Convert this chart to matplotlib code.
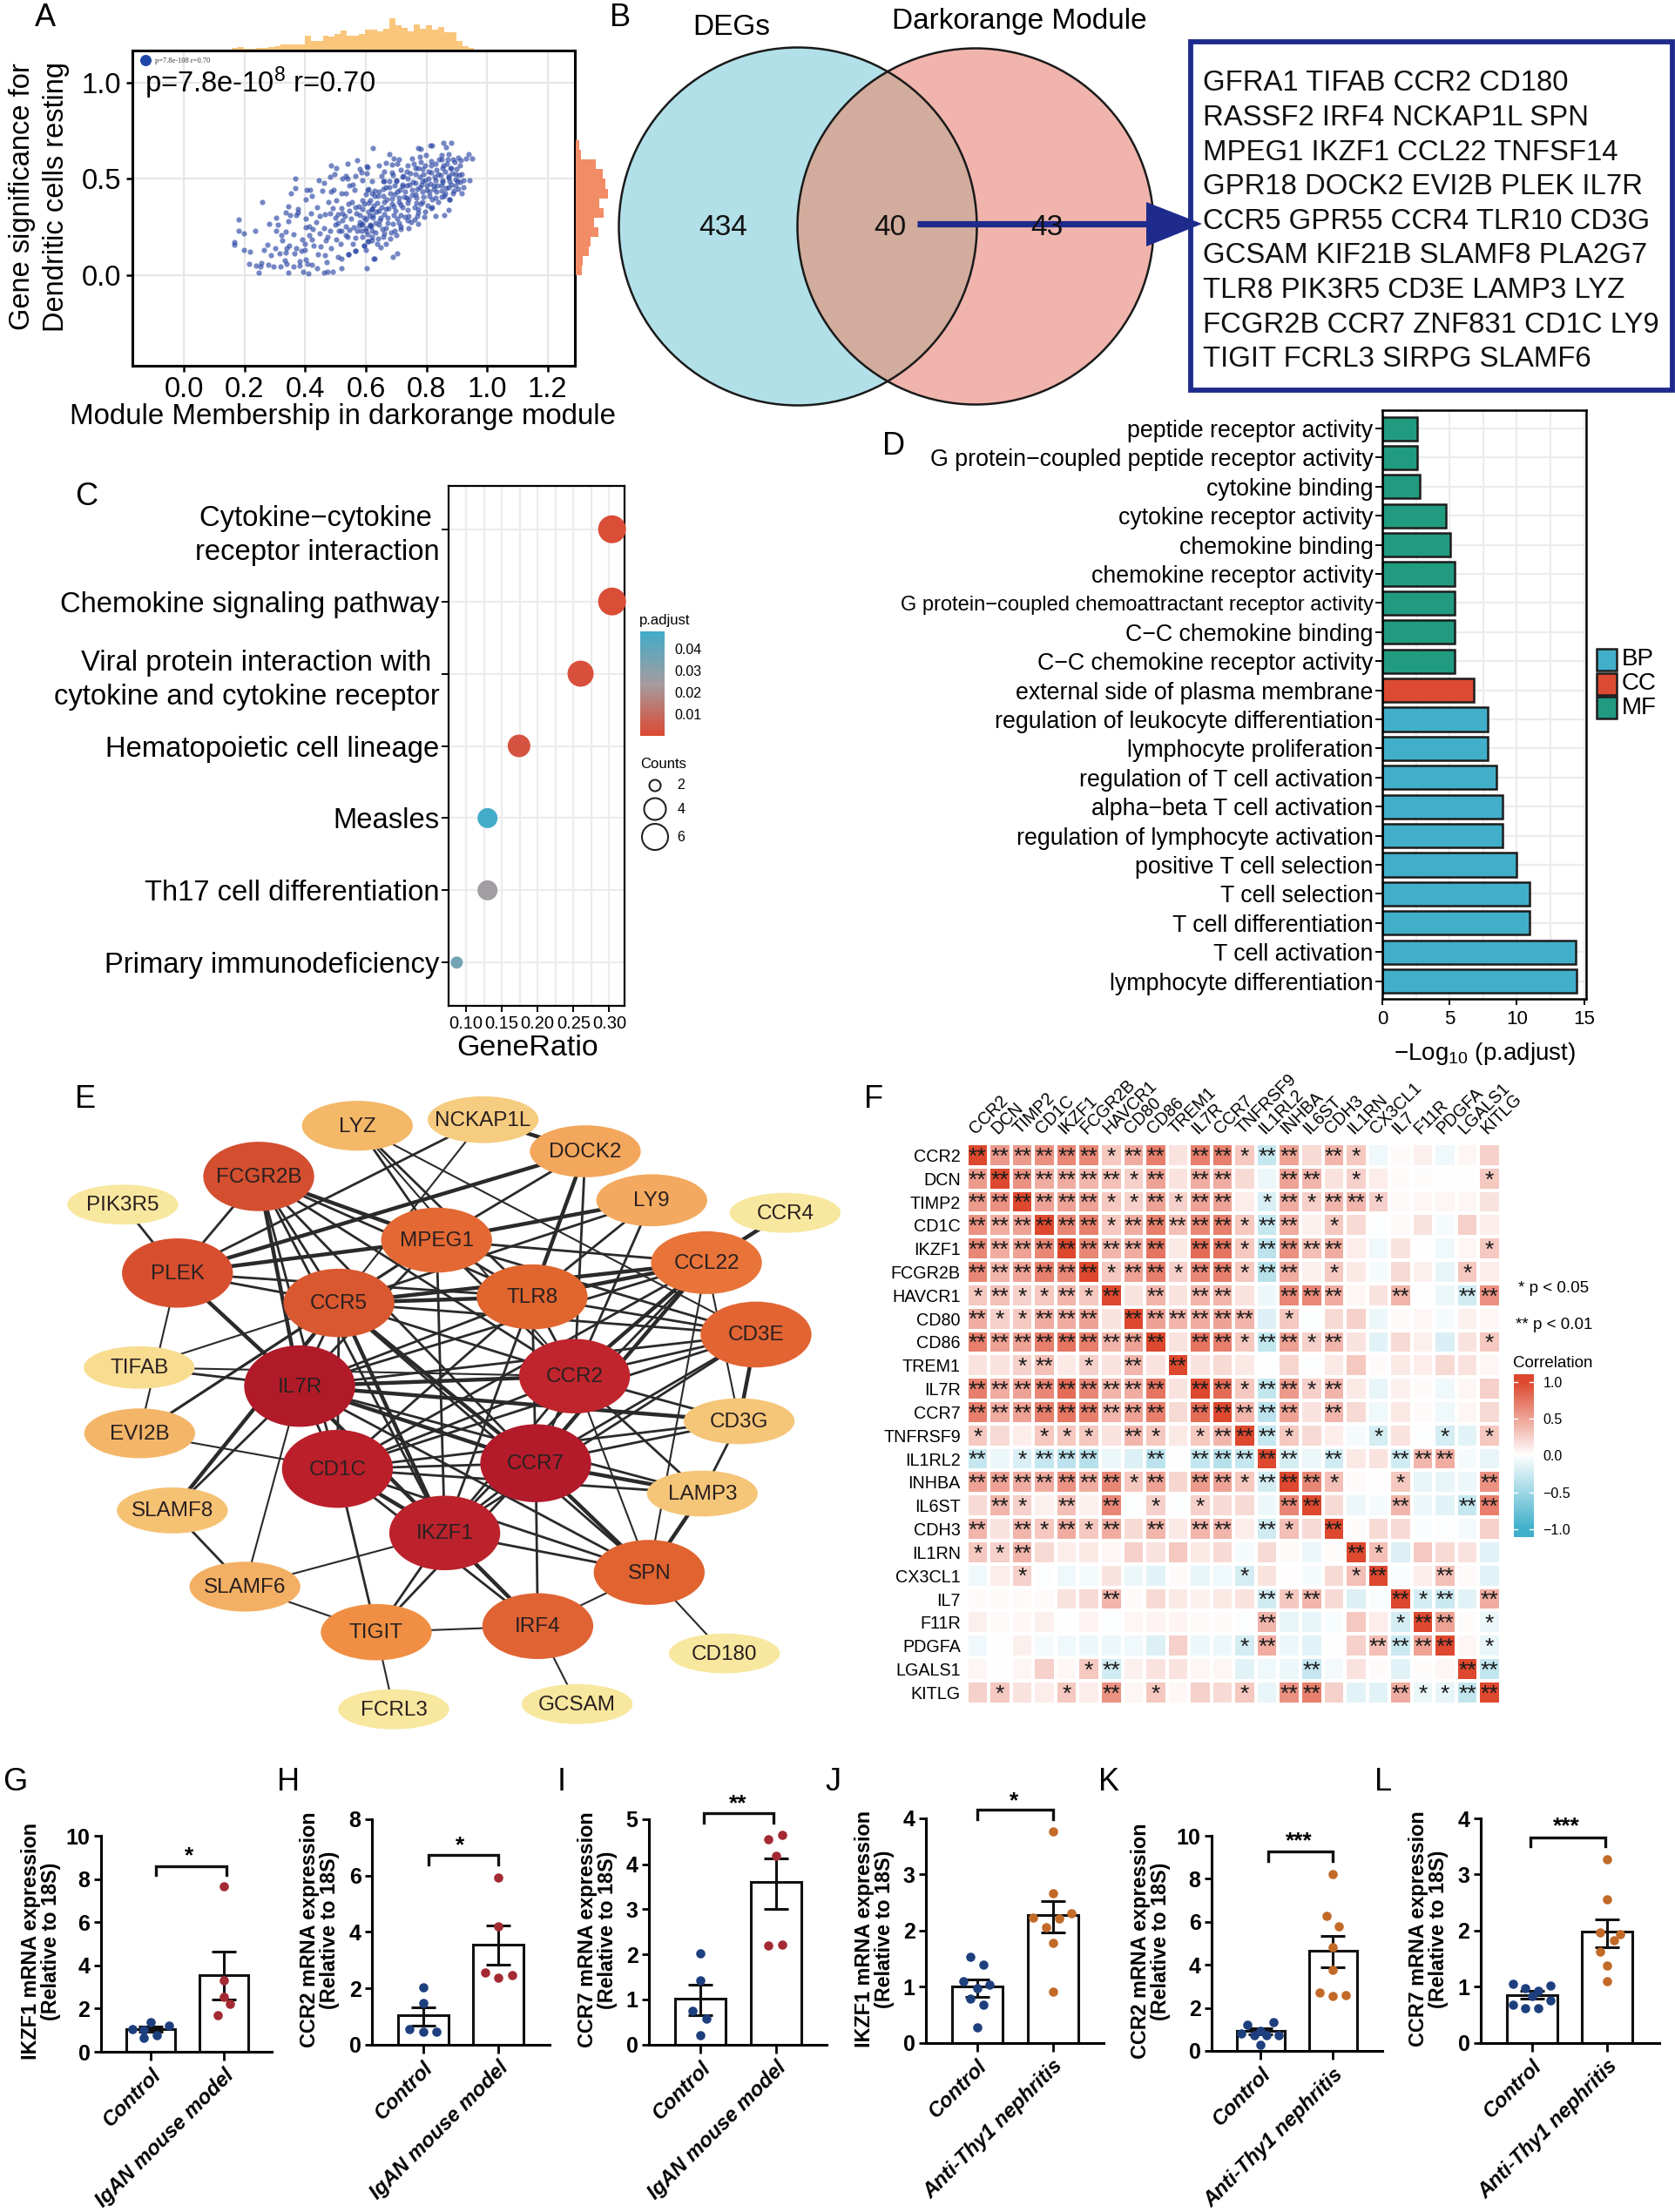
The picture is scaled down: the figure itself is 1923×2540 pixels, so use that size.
import numpy as np
import matplotlib
matplotlib.use('Agg')
import matplotlib.pyplot as plt
from matplotlib.colors import LinearSegmentedColormap
from matplotlib.patches import Circle, Ellipse, Rectangle, Polygon

plt.rcParams['font.family'] = ['Liberation Sans', 'DejaVu Sans']
plt.rcParams['mathtext.default'] = 'regular'
plt.rcParams['axes.unicode_minus'] = True

W, H = 1923, 2540
fig = plt.figure(figsize=(W / 100, H / 100), dpi=100, facecolor='white')

def px_axes(x0, y0, x1, y1, **kw):
    return fig.add_axes([x0 / W, 1 - y1 / H, (x1 - x0) / W, (y1 - y0) / H], **kw)

# overlay in figure pixels, for panel letters, venn and free text
canvas = px_axes(0, 0, W, H, zorder=10)
canvas.set_xlim(0, W)
canvas.set_ylim(H, 0)
canvas.axis('off')
canvas.patch.set_visible(False)

# ---------- panel A data
scatter_x = [.624,.571,.540,.485,.502,.604,.581,.587,.602,.497,.483,.368,.445,.463,.522,.533,.539,.566,.589,.368,
             .353,.404,.416,.422,.401,.457,.485,.493,.257,.344,.375,.337,.349,.370,.375,.418,.439,.476,.502,.490,
             .303,.344,.280,.311,.181,.181,.198,.236,.305,.337,.321,.361,.325,.401,.449,.466,.483,.437,.401,.413,
             .426,.461,.447,.413,.391,.399,.422,.427,.474,.469,.483,.451,.485,.502,.516,.166,.166,.198,.219,.275,
             .265,.300,.286,.316,.337,.346,.340,.332,.371,.366,.388,.399,.442,.466,.471,.509,.519,.543,.215,.238,
             .255,.253,.277,.296,.320,.340,.361,.382,.382,.401,.409,.423,.438,.246,.344,.394,.411,.461,.473,.492,
             .519,.604,.627,.567,.567,.595,.610,.519,.533,.547,.557,.562,.543,.554,.566,.581,.595,.610,.619,.600,
             .614,.509,.523,.509,.523,.533,.547,.519,.533,.500,.576,.590,.600,.614,.586,.605,.619,.624,.610,.576,
             .547,.619,
             .772,.782,.812,.820,.856,.882,.866,.940,.930,.952,.677,.691,.710,.667,.643,.753,.777,.799,.851,.873,
             .906,.887,.849,.815,.782,.758,.739,.705,.686,.911,.868,.830,.796,.772,.882,.854,.734,.715,.686,.662,
             .653,.605,.916,.897,.873,.839,.815,.791,.763,.739,.720,.700,.677,.657,.921,.943,.901,.877,.854,.830,
             .806,.787,.763,.743,.720,.696,.667,.643,.619,.921,.897,.873,.849,.825,.801,.777,.753,.729,.705,.681,
             .657,.629,.605,.916,.887,.863,.834,.811,.787,.763,.734,.710,.686,.662,.638,.610,.877,.851,.820,.787,
             .767,.739,.715,.691,.667,.643,.619,.590,.815,.873,.796,.772,.830,.858,.770,.772,.739,.715,.691,.672,
             .648,.624,.595,.742,.715,.694,.667,.643,.614,.586,.600,.571,.657,.633,.619,.590,.665,.638,.605,.595,
             .566,.557,.703,.688,.629,.543]
scatter_y = [.660,.597,.581,.569,.558,.564,.550,.532,.529,.525,.510,.502,.495,.480,.502,.517,.502,.514,.492,.452,
             .427,.442,.442,.412,.394,.439,.434,.445,.380,.359,.344,.326,.314,.314,.326,.321,.354,.382,.389,.347,
             .299,.280,.268,.264,.288,.231,.216,.229,.232,.226,.208,.211,.181,.296,.306,.317,.321,.276,.250,.253,
             .241,.246,.216,.208,.185,.162,.185,.155,.200,.181,.231,.148,.140,.185,.163,.170,.160,.133,.122,.160,
             .133,.141,.103,.113,.117,.155,.140,.079,.140,.113,.128,.133,.110,.103,.068,.095,.087,.110,.060,.048,
             .065,.047,.053,.047,.047,.060,.047,.072,.050,.080,.060,.054,.038,.015,.012,.020,.009,.012,.020,.018,
             .035,.035,.085,.196,.128,.155,.177,.427,.427,.464,.472,.445,.372,.382,.351,.314,.372,.449,.427,.419,
             .389,.317,.321,.270,.283,.252,.237,.231,.209,.264,.259,.267,.244,.259,.229,.214,.229,.314,.329,.359,
             .335,.344,
             .660,.657,.673,.673,.688,.686,.665,.627,.605,.608,.627,.605,.600,.582,.570,.608,.615,.623,.623,.627,
             .612,.600,.600,.593,.588,.578,.570,.578,.573,.570,.578,.578,.570,.555,.555,.555,.540,.547,.532,.540,
             .517,.562,.525,.525,.517,.525,.532,.525,.525,.502,.510,.495,.487,.487,.495,.495,.487,.487,.495,.495,
             .502,.487,.480,.472,.472,.464,.457,.434,.487,.457,.464,.457,.464,.464,.464,.457,.442,.434,.434,.427,
             .412,.412,.442,.427,.427,.427,.434,.434,.434,.419,.404,.404,.397,.382,.374,.374,.392,.407,.392,.382,
             .374,.374,.366,.359,.344,.336,.344,.344,.347,.341,.329,.344,.306,.314,.306,.265,.283,.314,.314,.299,
             .299,.299,.299,.246,.241,.231,.246,.261,.261,.261,.231,.231,.201,.223,.201,.201,.163,.163,.178,.155,
             .125,.163,.113,.094,.085,.110]
# second pass over the dense core of the cloud
dense_x = [.612,.618,.627,.631,.636,.641,.646,.651,.654,.659,.662,.668,.671,.675,.679,.683,.686,.69,.694,.698,.702,
           .705,.709,.712,.716,.72,.724,.727,.731,.735,.738,.742,.746,.749,.752,.756,.76,.763,.767,.77,.773,.777,
           .78,.783,.786,.79,.793,.797,.8,.803,.807,.81,.813,.817,.82,.823,.827,.83,.833,.837,.84,.843,.846,.85,
           .853,.857,.86,.863,.866,.87,.873,.877,.88,.883,.886,.89,.893,.897,.9,.904,.907,.91,.913,.64,.65,.66,
           .6,.59,.58,.57,.56,.55,.54,.53,.52,.51,.5,.63,.66,.69,.72,.74,.76,.71,.68,.7,.62,.6]
dense_y = [.306,.252,.362,.271,.331,.410,.286,.355,.238,.448,.318,.394,.272,.348,.456,.222,.372,.268,.421,.336,.488,
           .292,.381,.442,.255,.352,.514,.408,.303,.466,.338,.392,.528,.278,.418,.486,.352,.556,.402,.448,.328,.512,
           .372,.472,.552,.408,.302,.494,.442,.362,.538,.412,.474,.568,.352,.448,.512,.402,.548,.468,.378,.602,.522,.438,
           .482,.572,.412,.538,.452,.602,.508,.392,.558,.472,.528,.438,.588,.498,.552,.448,.522,.482,.598,.19,.145,.218,
           .29,.39,.275,.32,.25,.295,.2,.31,.35,.23,.3,.44,.49,.52,.46,.31,.29,.27,.19,.21,.18,.13]
top_hist = [6,10,4,4,7,5,8,12,20,20,20,20,50,30,32,50,47,55,68,50,50,55,72,72,65,75,110,85,77,65,90,75,85,70,80,62,62,30,12,6]
right_hist = [15,18,32,37,56,45,70,58,80,75,68,50,14,8]

ax_a = px_axes(152, 58, 660, 420)
ax_a.set_xlim(-0.17, 1.29)
ax_a.set_ylim(-0.47, 1.167)
ax_a.grid(color='#E6E6E6', lw=1.5)
ax_a.set_axisbelow(True)
ax_a.scatter(scatter_x + dense_x, scatter_y + dense_y, s=20, color='#2A45A3', alpha=0.65, linewidths=0)
ax_a.scatter([-0.128], [1.118], s=70, color='#1F46A8')
ax_a.text(-0.095, 1.112, 'p=7.8e-108 r=0.70', fontsize=6, family='Liberation Serif', va='center', color='#333333')
ax_a.text(-0.13, 1.0, 'p=7.8e-10$^{8}$ r=0.70', fontsize=23.5, va='center')
ax_a.set_xticks([0, .2, .4, .6, .8, 1.0, 1.2])
ax_a.set_yticks([0, .5, 1.0])
ax_a.set_xticklabels(['0.0', '0.2', '0.4', '0.6', '0.8', '1.0', '1.2'])
ax_a.set_yticklabels(['0.0', '0.5', '1.0'])
ax_a.tick_params(labelsize=23.5, width=1.8, length=5, pad=4)
for s in ax_a.spines.values():
    s.set_linewidth(2.2)
canvas.text(393, 478, 'Module Membership in darkorange module', fontsize=23.8, ha='center', va='center')
canvas.text(45, 226, 'Gene significance for\nDendritic cells resting', fontsize=23.5, rotation=90,
            ha='center', va='center', linespacing=1.32)

ax_top = px_axes(152, 18, 660, 57)
ax_top.set_xlim(ax_a.get_xlim())
ax_top.set_ylim(0, 120)
ax_top.bar(0.158 + 0.02 * np.arange(len(top_hist)), top_hist, width=0.02, align='edge', color='#F9C67C', linewidth=0)
ax_top.axis('off')

ax_right = px_axes(661, 58, 700, 420)
ax_right.set_ylim(ax_a.get_ylim())
ax_right.set_xlim(0, 85)
ax_right.barh(0.05 * np.arange(len(right_hist)), right_hist, height=0.05, align='edge', color='#F28C66', linewidth=0)
ax_right.axis('off')

# ---------- panel B
venn_counts = ['434', '40', '43']
hub_lines = ['GFRA1 TIFAB CCR2 CD180', 'RASSF2 IRF4 NCKAP1L SPN', 'MPEG1 IKZF1 CCL22 TNFSF14',
             'GPR18 DOCK2 EVI2B PLEK IL7R', 'CCR5 GPR55 CCR4 TLR10 CD3G', 'GCSAM KIF21B SLAMF8 PLA2G7',
             'TLR8 PIK3R5 CD3E LAMP3 LYZ', 'FCGR2B CCR7 ZNF831 CD1C LY9', 'TIGIT FCRL3 SIRPG SLAMF6']
left_c = Circle((916, 260), 205.5, fc='#B2E0E9', ec='none')
canvas.add_patch(left_c)
canvas.add_patch(Circle((1120, 260), 204.5, fc='#F0B4AD', ec='none'))
overlap = Circle((1120, 260), 204.5, fc='#D2AC9C', ec='none')
canvas.add_patch(overlap)
overlap.set_clip_path(left_c)
canvas.add_patch(Circle((916, 260), 205.5, fc='none', ec='#1a1a1a', lw=1.8))
canvas.add_patch(Circle((1120, 260), 204.5, fc='none', ec='#1a1a1a', lw=1.8))
canvas.text(840, 31, 'DEGs', fontsize=24, ha='center', va='center')
canvas.text(1170, 24, 'Darkorange Module', fontsize=24, ha='center', va='center')
for cx, label in zip([830, 1022, 1202], venn_counts):
    canvas.text(cx, 261, label, fontsize=24, ha='center', va='center', color='#111111')
navy = '#1E2A8C'
canvas.plot([1053, 1320], [257, 257], color=navy, lw=5.2, solid_capstyle='butt')
canvas.add_patch(Polygon([[1316, 232], [1380, 257], [1316, 283]], fc=navy, ec='none'))
canvas.add_patch(Rectangle((1367, 48), 553, 400, fc='none', ec=navy, lw=4.2))
for i, line in enumerate(hub_lines):
    canvas.text(1381, 96 + i * 39.6, line, fontsize=23.7, va='center', color='#111111')

# ---------- panel C
kegg_terms = ['Cytokine\u2212cytokine \nreceptor interaction', 'Chemokine signaling pathway',
              'Viral protein interaction with \ncytokine and cytokine receptor', 'Hematopoietic cell lineage',
              'Measles', 'Th17 cell differentiation', 'Primary immunodeficiency']
kegg_ratio = [.304, .304, .260, .174, .130, .130, .087]
kegg_padj = [.001, .001, .002, .003, .048, .025, .036]
kegg_counts = [7, 7, 6, 4, 3, 3, 2]
count_diam = {2: 14, 3: 23, 4: 26, 6: 30, 7: 32}
padj_cmap = LinearSegmentedColormap.from_list('padj', ['#DC4A33', '#A59CA0', '#43ACC8'])

ax_c = px_axes(515, 558, 717, 1155)
ax_c.set_xlim(0.0756, 0.3214)
ax_c.set_ylim(6.6, -0.6)
ax_c.set_xticks([.10, .15, .20, .25, .30])
ax_c.set_xticks([.125, .175, .225, .275], minor=True)
ax_c.set_xticklabels(['0.10', '0.15', '0.20', '0.25', '0.30'])
ax_c.set_yticks(range(7))
ax_c.set_yticklabels(kegg_terms, ha='right', multialignment='right', linespacing=1.32)
ax_c.grid(which='both', color='#ECECEC', lw=1.6)
ax_c.set_axisbelow(True)
ax_c.scatter(kegg_ratio, range(7), s=[(count_diam[c] * .72) ** 2 for c in kegg_counts], c=kegg_padj,
             cmap=padj_cmap, vmin=0, vmax=.048, linewidths=0, clip_on=False, zorder=3)
ax_c.tick_params(axis='y', labelsize=23.6, width=1.4, length=6, pad=1.5)
ax_c.tick_params(axis='x', labelsize=14.5, width=1.4, length=5, pad=3)
ax_c.tick_params(which='minor', length=0)
for s in ax_c.spines.values():
    s.set_linewidth(1.6)
canvas.text(606, 1203, 'GeneRatio', fontsize=24.5, ha='center', va='center')

ax_cb = px_axes(735, 725, 763, 845)
ax_cb.imshow(np.linspace(.0482, 0, 128).reshape(-1, 1), cmap=padj_cmap, vmin=0, vmax=.048, aspect='auto',
             extent=[0, 1, 0, .0482])
ax_cb.set_xticks([])
ax_cb.yaxis.tick_right()
ax_cb.set_yticks([.01, .02, .03, .04])
ax_cb.set_yticklabels(['0.01', '0.02', '0.03', '0.04'])
ax_cb.tick_params(labelsize=11.5, length=0, pad=8)
for s in ax_cb.spines.values():
    s.set_visible(False)
canvas.text(763, 713, 'p.adjust', fontsize=12, ha='center', va='center')
canvas.text(735, 877, 'Counts', fontsize=12, ha='left', va='center')
for lab, yy, dd in zip(['2', '4', '6'], [902, 929, 961], [13, 25, 30]):
    canvas.add_patch(Circle((752, yy), dd / 2, fc='white', ec='#222222', lw=1.5))
    canvas.text(782, yy, lab, fontsize=11.5, ha='center', va='center')

# ---------- panel D
go_terms = ['peptide receptor activity', 'G protein\u2212coupled peptide receptor activity', 'cytokine binding',
            'cytokine receptor activity', 'chemokine binding', 'chemokine receptor activity',
            'G protein\u2212coupled chemoattractant receptor activity', 'C\u2212C chemokine binding',
            'C\u2212C chemokine receptor activity', 'external side of plasma membrane',
            'regulation of leukocyte differentiation', 'lymphocyte proliferation', 'regulation of T cell activation',
            'alpha\u2212beta T cell activation', 'regulation of lymphocyte activation', 'positive T cell selection',
            'T cell selection', 'T cell differentiation', 'T cell activation', 'lymphocyte differentiation']
go_values = [2.6, 2.6, 2.8, 4.7, 5.05, 5.35, 5.35, 5.35, 5.35, 6.8, 7.85, 7.85, 8.5, 8.95, 8.95, 10.0, 10.95, 10.95, 14.4, 14.47]
go_class = ['MF'] * 9 + ['CC'] + ['BP'] * 10
go_colors = {'BP': '#41AFC9', 'CC': '#DC4A33', 'MF': '#219B80'}

ax_d = px_axes(1587, 471, 1820.5, 1146.6)
ax_d.set_xlim(0, 15.12)
ax_d.set_ylim(19.6, -0.63)
ax_d.set_xticks([0, 5, 10, 15])
ax_d.set_xticks([2.5, 7.5, 12.5], minor=True)
ax_d.grid(which='both', color='#ECECEC', lw=1.6)
ax_d.set_axisbelow(True)
ax_d.barh(range(20), go_values, height=0.81, color=[go_colors[c] for c in go_class], edgecolor='#1c1c1c', lw=1.8)
ax_d.set_yticks(range(20))
ax_d.set_yticklabels(go_terms)
ax_d.tick_params(axis='y', labelsize=19.3, width=1.4, length=6, pad=1.5)
ax_d.get_yticklabels()[6].set_fontsize(17)
ax_d.tick_params(axis='x', labelsize=16, width=1.4, length=5, pad=5)
ax_d.tick_params(which='minor', length=0)
for s in ax_d.spines.values():
    s.set_linewidth(1.8)
canvas.text(1704, 1210, '\u2212Log$_{10}$ (p.adjust)', fontsize=20, ha='center', va='center')
for lab, yy in zip(['BP', 'CC', 'MF'], [757, 785, 812.5]):
    canvas.add_patch(Rectangle((1833, yy - 12.5), 23, 25, fc=go_colors[lab], ec='#1c1c1c', lw=1.8))
    canvas.text(1862, yy, lab, fontsize=20, ha='left', va='center')

# ---------- panel E
node_names = ['LYZ', 'NCKAP1L', 'DOCK2', 'FCGR2B', 'PIK3R5', 'LY9', 'CCR4', 'MPEG1', 'PLEK', 'CCL22', 'CCR5', 'TLR8',
              'CD3E', 'TIFAB', 'IL7R', 'CCR2', 'CD3G', 'EVI2B', 'CCR7', 'CD1C', 'LAMP3', 'SLAMF8', 'IKZF1', 'SPN',
              'SLAMF6', 'TIGIT', 'IRF4', 'CD180', 'GCSAM', 'FCRL3']
node_x = [597, 843, 1043, 404, 138, 1173, 1434, 752, 245, 1280, 561, 939, 1377, 170, 484, 1022, 1344, 171, 946, 558,
          1272, 235, 768, 1168, 377, 634, 950, 1315, 1027, 668]
node_y = [126, 112, 185, 243, 308, 298, 327, 390, 466, 442, 535, 521, 608, 684, 727, 704, 808, 836, 905, 918, 975,
          1014, 1066, 1157, 1190, 1295, 1281, 1344, 1461, 1473]
node_h = [115, 108, 120, 160, 92, 120, 92, 150, 160, 145, 158, 150, 152, 98, 188, 172, 106, 115, 180, 180, 106, 106,
          172, 150, 115, 130, 152, 92, 92, 92]
node_colors = ['#F3B868', '#F6CC80', '#F3A75C', '#D34F30', '#F8E79E', '#F3A95F', '#F8E79E', '#E36833', '#D84F2F',
               '#E8743A', '#D9582F', '#E0652F', '#E26433', '#F8DC90', '#B11A28', '#C0252D', '#F5C678', '#F3B668',
               '#B41B2A', '#BB1F2A', '#F5C678', '#F5C273', '#BC222C', '#E06330', '#F3B064', '#F08F43', '#E06333',
               '#F8E79E', '#F8E79E', '#F8E79E']
thin_edges = 'LYZ-CD3E TIFAB-CCR5 TIFAB-CCR2 EVI2B-CD1C SLAMF6-IL7R SLAMF6-IKZF1 CCR2-SPN CCL22-CD3G CCL22-SPN LYZ-CCR2 NCKAP1L-CCR5 IRF4-GCSAM SPN-CD180 TIGIT-FCRL3 IRF4-TIGIT SPN-IRF4 SLAMF6-TIGIT PLEK-EVI2B'.split()
mid_edges = ('PIK3R5-PLEK PLEK-FCGR2B LYZ-MPEG1 LYZ-TLR8 NCKAP1L-PLEK DOCK2-MPEG1 DOCK2-CCR2 LY9-TLR8 LY9-CCR5 LY9-CCR2 '
             'PLEK-CCR5 PLEK-TLR8 FCGR2B-CCR5 FCGR2B-TLR8 FCGR2B-CCR2 FCGR2B-CCR7 FCGR2B-CD1C CCL22-CD1C CCL22-IKZF1 '
             'CCL22-IL7R CCL22-MPEG1 MPEG1-CCR5 MPEG1-TLR8 MPEG1-IKZF1 MPEG1-CCR2 MPEG1-CD3E MPEG1-IL7R CCR5-IL7R '
             'CCR5-CD1C CCR5-CD3E CCR5-CCR2 CCR5-SPN TLR8-CCR2 TLR8-CCR7 TLR8-IKZF1 TLR8-IL7R TLR8-CD1C TLR8-CD3E '
             'CD3E-IL7R CD3E-CCR7 CD3E-CD1C CD3E-IKZF1 CD3E-CCR2 CD3G-CCR7 CD3G-CCR2 CD3G-LAMP3 CD3G-CD1C TIFAB-IL7R '
             'EVI2B-CCR5 EVI2B-MPEG1 SLAMF8-IL7R SLAMF8-SLAMF6 IL7R-CD1C IL7R-LAMP3 IL7R-SPN IL7R-IRF4 CCR2-CCR7 '
             'CCR2-CD1C CCR2-IKZF1 CCR2-LAMP3 CD1C-CCR7 CD1C-LAMP3 CD1C-SPN CD1C-TIGIT CD1C-IRF4 CCR7-IKZF1 CCR7-IRF4 '
             'CCR7-TIGIT IKZF1-SPN IKZF1-TIGIT FCGR2B-IKZF1').split()
thick_edges = ('NCKAP1L-DOCK2 PLEK-IL7R PLEK-MPEG1 PLEK-DOCK2 FCGR2B-IL7R FCGR2B-MPEG1 DOCK2-TLR8 LY9-MPEG1 CCR4-CCL22 '
               'CCL22-TLR8 CCL22-CCR5 CCL22-CCR2 CCL22-CCR7 CCR5-TLR8 CCR5-CCR7 CCR5-IKZF1 CD3E-CD3G CD3G-IL7R SLAMF8-CCR5 '
               'IL7R-CCR2 IL7R-CCR7 IL7R-IKZF1 CD1C-IKZF1 CCR7-LAMP3 CCR7-SPN IKZF1-IRF4 LAMP3-SPN').split()

ax_e = px_axes(60, 1230, 980, 2010)
ax_e.set_xlim(0, 1568)
ax_e.set_ylim(1568, 0)
ax_e.axis('off')
for edges, lw in [(thin_edges, 1.5), (mid_edges, 2.0), (thick_edges, 3.2)]:
    for e in edges:
        a, b = e.split('-')
        ia, ib = node_names.index(a), node_names.index(b)
        ax_e.plot([node_x[ia], node_x[ib]], [node_y[ia], node_y[ib]], color='#2a2a2a', lw=lw, zorder=1)
for name, nx, ny, nh, col in zip(node_names, node_x, node_y, node_h, node_colors):
    ax_e.add_patch(Ellipse((nx, ny), 217, nh, fc=col, ec='none', zorder=2))
    ax_e.text(nx, ny + 2, name, fontsize=17.5, ha='center', va='center', color='#2a2020', zorder=3)

# ---------- panel F
genes = ['CCR2', 'DCN', 'TIMP2', 'CD1C', 'IKZF1', 'FCGR2B', 'HAVCR1', 'CD80', 'CD86', 'TREM1', 'IL7R', 'CCR7', 'TNFRSF9',
         'IL1RL2', 'INHBA', 'IL6ST', 'CDH3', 'IL1RN', 'CX3CL1', 'IL7', 'F11R', 'PDGFA', 'LGALS1', 'KITLG']
corr_pct = [
    [100,55,55,60,65,65,30,45,70,15,70,70,30,-30,50,20,40,30,-8,3,8,-8,5,25],
    [55,100,60,45,45,40,35,25,50,15,45,45,20,-10,50,40,15,25,10,3,2,0,0,30],
    [55,60,100,50,50,50,30,25,50,25,50,50,10,-20,45,25,40,40,25,3,5,5,5,15],
    [60,45,50,100,65,70,30,45,70,35,65,70,30,-30,45,8,30,20,-2,3,15,-5,25,10],
    [65,45,50,65,100,65,40,45,75,12,80,75,30,-35,60,35,45,10,-8,15,0,-8,5,30],
    [65,40,50,70,65,100,30,50,70,25,65,70,30,-38,45,8,30,12,-5,20,8,-12,30,10],
    [30,35,25,30,40,30,100,15,40,15,40,40,15,-10,65,65,45,5,15,40,0,-10,-25,60],
    [45,25,30,45,45,50,15,100,50,40,45,50,40,-18,30,-1,20,25,-10,3,5,-5,8,5],
    [70,50,50,70,75,70,40,50,100,15,75,70,30,-32,50,25,40,15,-15,20,8,-20,15,30],
    [15,15,25,35,12,25,15,40,15,100,15,20,12,0,22,-2,12,30,3,12,10,20,15,5],
    [70,45,50,65,80,65,40,45,75,15,100,80,30,-32,55,25,40,12,-12,8,3,-8,5,25],
    [70,45,50,70,75,70,40,50,70,20,80,100,40,-35,50,15,40,20,-8,12,3,-8,5,20],
    [30,20,10,30,30,30,15,40,30,12,30,40,100,-30,30,20,10,-5,-22,15,-2,-22,-15,30],
    [-30,-10,-20,-30,-35,-38,-10,-18,-35,0,-32,-38,-30,100,-22,-10,-25,12,15,-25,40,45,-5,-12],
    [50,50,45,45,60,45,65,30,50,22,55,50,30,-22,100,65,35,3,1,30,-12,-12,-10,60],
    [20,40,25,8,35,8,65,-1,25,-2,25,20,20,-10,65,100,20,-10,-5,40,-10,-15,-30,70],
    [40,15,40,30,45,30,45,20,40,12,40,40,10,-25,35,20,100,2,20,20,-3,-2,-6,25],
    [30,25,40,20,10,12,5,25,15,30,12,20,-5,20,3,-10,2,100,35,-18,30,20,15,-15],
    [-8,10,25,-2,-8,-5,15,-10,-15,3,-12,-8,-22,15,1,-5,20,35,100,-3,10,35,3,-15],
    [3,3,3,3,15,20,40,3,20,12,8,12,15,-25,30,40,20,-18,-3,100,-22,-28,-15,45],
    [8,3,4,8,0,6,-2,5,6,6,3,3,-2,40,-12,-12,-4,30,10,-22,100,50,2,-10],
    [-8,0,8,-5,-8,-10,-10,-8,-18,25,-10,-10,-22,45,-10,-15,0,25,35,-28,50,100,5,-12],
    [5,0,5,25,4,30,-25,8,15,15,5,5,-15,-8,-10,-30,-6,15,3,-15,2,5,100,-32],
    [25,30,15,10,30,10,60,5,30,4,25,20,30,-12,60,70,25,-15,-15,45,-10,-12,-32,100]]
corr_stars = ['222222122022122021000000', '222222212022002201000001', '222222112122012122100000',
              '222222122222122010000000', '222222222022122220000001', '222222122122122010000010',
              '121121202022002220020022', '211222022222201000000000', '222222222022122120000001',
              '001201020200000000000000', '222222222022122120000000', '222222222022222020000000',
              '100111021012221000100101', '201222002022222020022200', '222222212022122210010002',
              '021020201010002200020022', '202121202022021020000000', '112000000000000002100000',
              '001000000000100001200200', '000000200000021200021202', '000000000000020000012201',
              '000000000000120000222201', '000001200000000200000022', '010010201000102200021122']

corr = np.array(corr_pct) / 100
corr_cmap = LinearSegmentedColormap.from_list('corr', ['#3FB0CB', '#FFFFFF', '#DD482E'])
ax_f = px_axes(1109.6, 1313, 1723, 1956.7)
ax_f.pcolormesh(corr, cmap=corr_cmap, vmin=-1, vmax=1, edgecolors='white', linewidth=1.6)
ax_f.set_xlim(0, 24)
ax_f.set_ylim(24, 0)
for r, row in enumerate(corr_stars):
    for c, st in enumerate(row):
        if st != '0':
            ax_f.text(c + .5, r + .58, '*' * int(st), fontsize=19, ha='center', va='center', color='#1a1a1a')
ax_f.xaxis.tick_top()
ax_f.set_xticks(np.arange(24) + .5)
ax_f.set_yticks(np.arange(24) + .5)
ax_f.set_xticklabels(genes, rotation=45, ha='left', rotation_mode='anchor', fontsize=14.2)
ax_f.set_yticklabels(genes, fontsize=14.2)
ax_f.tick_params(length=0, pad=5)
for s in ax_f.spines.values():
    s.set_visible(False)

canvas.text(1743, 1479, '* p < 0.05', fontsize=13.5, ha='left', va='center')
canvas.text(1740, 1521, '** p < 0.01', fontsize=13.5, ha='left', va='center')
canvas.text(1737, 1565, 'Correlation', fontsize=13.5, ha='left', va='center')
ax_fb = px_axes(1737.6, 1577.7, 1760.6, 1765)
ax_fb.imshow(np.linspace(1.107, -1.107, 256).reshape(-1, 1), cmap=corr_cmap, vmin=-1, vmax=1, aspect='auto',
             extent=[0, 1, -1.107, 1.107])
ax_fb.set_xticks([])
ax_fb.yaxis.tick_right()
ax_fb.set_yticks([-1, -.5, 0, .5, 1])
ax_fb.set_yticklabels(['\u22121.0', '\u22120.5', '0.0', '0.5', '1.0'])
ax_fb.tick_params(labelsize=11.5, length=0, pad=8)
for s in ax_fb.spines.values():
    s.set_visible(False)
for v in [-1, -.5, 0, .5, 1]:
    ax_fb.plot([0, .2], [v, v], color='white', lw=1)
    ax_fb.plot([.8, 1], [v, v], color='white', lw=1)
ax_fb.set_xlim(0, 1)

# ---------- panels G-L
g_means, g_low, g_high = [1.05, 3.55], [0.93, 2.42], [1.17, 4.62]
g_ctrl_off, g_ctrl = [-.255, 0, .248, -.095, .088, -.095], [1.05, 1.39, 1.21, .65, .78, 1.0]
g_case_off, g_case = [0, 0, 0, .088, -.088], [7.65, 3.31, 2.53, 2.22, 1.7]
h_means, h_low, h_high = [1.03, 3.56], [.68, 2.84], [1.32, 4.22]
h_ctrl_off, h_ctrl = [0, 0, -.177, 0, .177], [2.02, 1.47, .55, .44, .46]
h_case_off, h_case = [0, 0, -.177, 0, .184], [5.93, 4.2, 2.56, 2.38, 2.45]
i_means, i_low, i_high = [1.02, 3.6], [.66, 3.0], [1.32, 4.13]
i_ctrl_off, i_ctrl = [0, 0, -.1, .085, 0], [2.03, 1.42, .74, .58, .2]
i_case_off, i_case = [.085, -.1, 0, -.1, .085], [4.66, 4.55, 4.18, 2.2, 2.21]
j_means, j_low, j_high = [1.0, 2.27], [.82, 1.96], [1.13, 2.53]
j_ctrl_off, j_ctrl = [-.09, .085, -.176, .169, 0, -.09, .085, 0], [1.53, 1.39, 1.1, 1.03, .97, .79, .67, .28]
j_case_off, j_case = [0, 0, .246, -.26, .085, -.085, 0, 0], [3.76, 2.66, 2.31, 2.23, 2.22, 2.05, 1.78, .91]
k_means, k_low, k_high = [.92, 4.65], [.76, 3.88], [1.05, 5.34]
k_ctrl_off, k_ctrl = [-.185, .178, 0, -.266, -.09, .09, .252, 0], [1.22, 1.32, .95, .81, .74, .74, .74, .27]
k_case_off, k_case = [0, -.09, .09, 0, 0, -.178, .178, 0], [8.2, 6.26, 5.78, 4.8, 3.78, 2.7, 2.6, 2.54]
l_means, l_low, l_high = [.85, 1.98], [.78, 1.7], [.92, 2.2]
l_ctrl_off, l_ctrl = [-.248, .248, -.085, .085, 0, -.248, .248, -.085, .085], [1.05, 1.02, .97, .92, .84, .68, .76, .61, .61]
l_case_off, l_case = [0, 0, .177, -.092, .092, -.092, 0, 0], [3.27, 2.55, 1.93, 1.96, 1.82, 1.62, 1.37, 1.09]

def bar_panel(rect, centers, bar_px, ymax, yticks, means, low, high, ctrl, case, case_col, xlabel, ylabel, ylabel_xy,
              bracket, stars, star_xy):
    left, right, top, bottom = rect
    c1, c2 = centers
    step = c2 - c1
    ax = px_axes(left, top, right, bottom)
    ax.patch.set_visible(False)
    ax.set_xlim(1 - (c1 - left) / step, 2 + (right - c2) / step)
    ax.set_ylim(0, ymax)
    ax.bar([1, 2], means, width=bar_px / step, fc='white', ec='#111111', lw=2.2)
    ax.errorbar([1, 2], means, yerr=[[m - l for m, l in zip(means, low)], [h - m for m, h in zip(means, high)]],
                fmt='none', ecolor='#111111', elinewidth=2.2, capsize=10, capthick=2.2, zorder=3)
    ax.scatter(1 + np.array(ctrl[0]), ctrl[1], s=58, color='#1E3F7E', linewidths=0, zorder=4, clip_on=False)
    ax.scatter(2 + np.array(case[0]), case[1], s=58, color=case_col, linewidths=0, zorder=4, clip_on=False)
    bx0, bx1, by0, by1 = bracket
    ax.plot([bx0, bx0, bx1, bx1], [by0, by1, by1, by0], color='#111111', lw=2.4, clip_on=False, solid_joinstyle='miter')
    ax.text(star_xy[0], star_xy[1], stars, fontsize=19, fontweight='bold', ha='center', va='center', clip_on=False)
    for s in ['top', 'right']:
        ax.spines[s].set_visible(False)
    for s in ['left', 'bottom']:
        ax.spines[s].set_linewidth(2.2)
    ax.set_yticks(yticks)
    ax.set_xticks([1, 2])
    ax.set_xticklabels(['Control', xlabel], rotation=45, ha='right', rotation_mode='anchor', fontsize=17,
                       fontweight='bold', fontstyle='italic')
    ax.tick_params(axis='y', labelsize=18, width=2, length=6, pad=3)
    for t in ax.get_yticklabels():
        t.set_fontweight('bold')
    ax.tick_params(axis='x', width=2, length=7, pad=4)
    canvas.text(ylabel_xy[0], ylabel_xy[1], ylabel + ' mRNA expression\n(Relative to 18S)', fontsize=16.8, fontweight='bold',
                rotation=90, ha='center', va='center', linespacing=1.05)

iga_col, thy_col = '#A32A33', '#C26A28'
iga, thy = 'IgAN mouse model', 'Anti-Thy1 nephritis'
bar_panel((116, 312, 2108, 2356), (173, 257), 56, 10, [0, 2, 4, 6, 8, 10], g_means, g_low, g_high, (g_ctrl_off, g_ctrl),
          (g_case_off, g_case), iga_col, iga, 'IKZF1', (47, 2229), (1.07, 2.03, 8.18, 8.6), '*', (1.525, 9.05))
bar_panel((427, 631, 2089, 2347.7), (485.6, 572), 58, 8, [0, 2, 4, 6, 8], h_means, h_low, h_high, (h_ctrl_off, h_ctrl),
          (h_case_off, h_case), iga_col, iga, 'CCR2', (367, 2216), (1.07, 2.0, 6.4, 6.73), '*', (1.49, 7.05))
bar_panel((745, 949, 2089, 2347.7), (804, 891), 58, 5, [0, 1, 2, 3, 4, 5], i_means, i_low, i_high, (i_ctrl_off, i_ctrl),
          (i_case_off, i_case), iga_col, iga, 'CCR7', (686, 2216), (1.05, 1.97, 4.93, 5.13), '**', (1.5, 5.35))
bar_panel((1063, 1267, 2087.7, 2345.7), (1121.5, 1208.8), 58, 4, [0, 1, 2, 3, 4], j_means, j_low, j_high, (j_ctrl_off, j_ctrl),
          (j_case_off, j_case), thy_col, thy, 'IKZF1', (1004, 2215), (1.0, 2.0, 3.98, 4.15), '*', (1.49, 4.3))
bar_panel((1391, 1586.5, 2108, 2355), (1447, 1530), 55, 10, [0, 2, 4, 6, 8, 10], k_means, k_low, k_high, (k_ctrl_off, k_ctrl),
          (k_case_off, k_case), thy_col, thy, 'CCR2', (1321, 2229), (1.11, 2.0, 8.82, 9.26), '***', (1.54, 9.75))
bar_panel((1700, 1905, 2088, 2345.7), (1758.5, 1845), 58, 4, [0, 1, 2, 3, 4], l_means, l_low, l_high, (l_ctrl_off, l_ctrl),
          (l_case_off, l_case), thy_col, thy, 'CCR7', (1640, 2215), (.98, 1.98, 3.5, 3.66), '***', (1.46, 3.85))

# ---------- panel letters
letters = ['A', 'B', 'C', 'D', 'E', 'F', 'G', 'H', 'I', 'J', 'K', 'L']
letter_x = [52, 712, 99, 1026, 98, 1003, 17, 331, 645, 956, 1273, 1588]
letter_y = [20, 20, 571, 512, 1262, 1262, 2047, 2047, 2047, 2047, 2047, 2047]
for lab, lx, ly in zip(letters, letter_x, letter_y):
    canvas.text(lx, ly, lab, fontsize=26, ha='center', va='center')

fig.savefig('out.png', dpi=100)
